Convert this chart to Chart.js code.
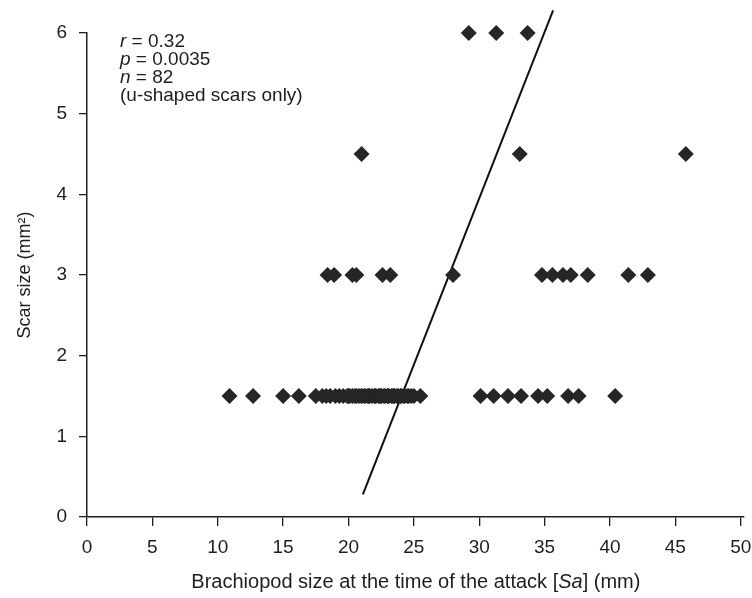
<!DOCTYPE html>
<html>
<head>
<meta charset="utf-8">
<script src="https://cdn.jsdelivr.net/npm/chart.js@4.4.1/dist/chart.umd.min.js"></script>
<style>
  html, body { margin: 0; padding: 0; background: #fff; }
  #wrap { width: 752px; height: 598px; }
</style>
</head>
<body>
<div id="wrap"><canvas id="scarChart" width="752" height="598"></canvas></div>
<script>
// Brachiopod size (mm) of each scarred shell, grouped by scar size (mm²)
const sizesAt1_5 = [
    10.9, 12.7, 15.0, 16.2,
    17.5, 18.0, 18.3, 18.6, 19.0, 19.3, 19.6, 19.9, 20.0, 20.1, 20.3,
    20.5, 20.6, 20.8, 21.0, 21.0, 21.2, 21.3, 21.5, 21.5, 21.6, 21.8,
    22.0, 22.0, 22.1, 22.3, 22.4, 22.5, 22.5, 22.7, 22.8, 23.0, 23.0,
    23.1, 23.3, 23.4, 23.5, 23.5, 23.7, 23.8, 24.0, 24.0, 24.2, 24.3,
    24.5, 24.6, 24.8, 25.0, 25.5,
    30.1, 31.1, 32.2, 33.2, 34.5, 35.2, 36.8, 37.6, 40.4
];
const sizesAt3 = [18.4, 18.9, 20.3, 20.6, 22.6, 23.2, 28.0, 34.8, 35.6, 36.4, 37.0, 38.3, 41.4, 42.9];
const sizesAt4_5 = [21.0, 33.1, 45.8];
const sizesAt6 = [29.2, 31.3, 33.7];

const scarLevels = [1.5, 3, 4.5, 6];
const sizeGroups = [sizesAt1_5, sizesAt3, sizesAt4_5, sizesAt6];

// regression line end points (x = size, y = scar size)
const fitX = [21.1, 35.65];
const fitY = [0.28, 6.28];

const xTicks = [0, 5, 10, 15, 20, 25, 30, 35, 40, 45, 50];
const yTicks = [0, 1, 2, 3, 4, 5, 6];

const statLines = [
    [['r', true], [' = 0.32', false]],
    [['p', true], [' = 0.0035', false]],
    [['n', true], [' = 82', false]],
    [['(u-shaped scars only)', false]]
];
const xTitle = [['Brachiopod size at the time of the attack [', false], ['Sa', true], ['] (mm)', false]];

const FONT = "'Liberation Sans', Arial, Helvetica, sans-serif";
const INK = '#1e1e1e';

function buildPoints() {
    const pts = [];
    sizeGroups.forEach((group, i) => {
        group.forEach(s => pts.push({ x: s, y: scarLevels[i] }));
    });
    return pts;
}

// draws a line of text made of normal / italic runs
function drawRuns(ctx, runs, x, y, size, align) {
    const fontOf = it => (it ? 'italic ' : '') + size + 'px ' + FONT;
    let total = 0;
    runs.forEach(([t, it]) => { ctx.font = fontOf(it); total += ctx.measureText(t).width; });
    let cx = align === 'center' ? x - total / 2 : x;
    ctx.textAlign = 'left';
    ctx.textBaseline = 'middle';
    runs.forEach(([t, it]) => {
        ctx.font = fontOf(it);
        ctx.fillText(t, cx, y);
        cx += ctx.measureText(t).width;
    });
}

const richText = {
    id: 'richText',
    afterDraw(chart) {
        const ctx = chart.ctx;
        const sx = chart.scales.x;
        ctx.save();
        ctx.fillStyle = INK;
        statLines.forEach((runs, i) => drawRuns(ctx, runs, 120, 42 + i * 18, 19, 'left'));
        drawRuns(ctx, xTitle, (sx.getPixelForValue(0) + sx.getPixelForValue(50)) / 2 + 2, 582, 20, 'center');
        ctx.restore();
    }
};

function createScarChart() {
    const ctx = document.getElementById('scarChart').getContext('2d');
    new Chart(ctx, {
        type: 'scatter',
        data: {
            datasets: [
                {
                    label: 'Scars',
                    data: buildPoints(),
                    pointStyle: 'rectRot',
                    pointRadius: 8,
                    backgroundColor: '#262626',
                    borderColor: '#262626',
                    borderWidth: 0,
                    clip: false
                },
                {
                    type: 'line',
                    label: 'Fit',
                    data: fitX.map((x, i) => ({ x: x, y: fitY[i] })),
                    borderColor: '#111',
                    borderWidth: 2,
                    pointRadius: 0,
                    fill: false,
                    clip: false
                }
            ]
        },
        options: {
            responsive: false,
            animation: false,
            events: [],
            layout: { padding: { top: 33, right: 2, left: 0, bottom: 0 } },
            plugins: {
                legend: { display: false },
                tooltip: { enabled: false }
            },
            scales: {
                x: {
                    type: 'linear',
                    min: 0,
                    max: 50.25,
                    afterBuildTicks: axis => { axis.ticks = xTicks.map(v => ({ value: v })); },
                    afterFit: axis => { axis.height = 81; axis.paddingRight = 0; },
                    grid: { drawOnChartArea: false, drawTicks: true, tickLength: 9, color: INK, lineWidth: 1.3 },
                    border: { display: true, color: INK, width: 1.5 },
                    ticks: { color: INK, font: { family: FONT, size: 19 }, padding: 10, maxRotation: 0, autoSkip: false }
                },
                y: {
                    type: 'linear',
                    min: 0,
                    max: 6,
                    afterBuildTicks: axis => { axis.ticks = yTicks.map(v => ({ value: v })); },
                    afterFit: axis => { axis.width = 87; },
                    grid: { drawOnChartArea: false, drawTicks: true, tickLength: 8, color: INK, lineWidth: 1.3 },
                    border: { display: true, color: INK, width: 1.5 },
                    ticks: { color: INK, font: { family: FONT, size: 19 }, padding: 12, autoSkip: false },
                    title: {
                        display: true,
                        text: 'Scar size (mm\u00b2)',
                        color: INK,
                        font: { family: FONT, size: 18 },
                        padding: { top: 14, bottom: 0 }
                    }
                }
            }
        },
        plugins: [richText]
    });
}

document.addEventListener('DOMContentLoaded', createScarChart);
</script>
</body>
</html>
